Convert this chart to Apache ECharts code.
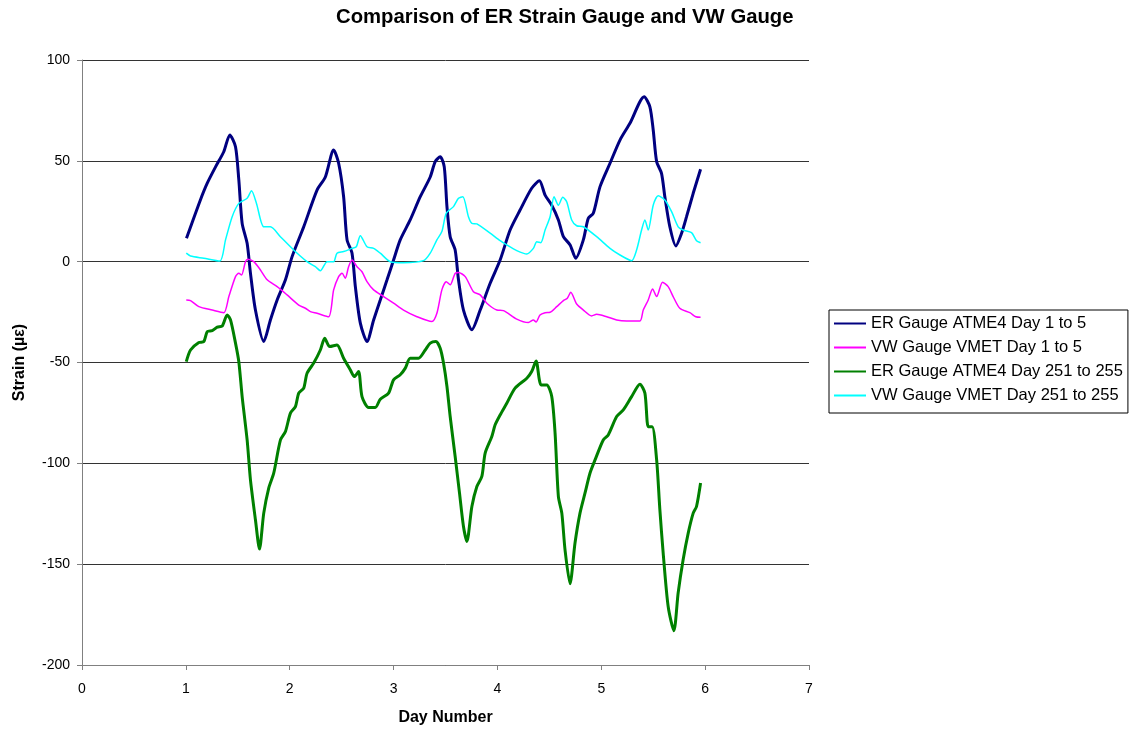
<!DOCTYPE html>
<html>
<head>
<meta charset="utf-8">
<title>Comparison of ER Strain Gauge and VW Gauge</title>
<script src="https://cdn.jsdelivr.net/npm/echarts@6/dist/echarts.min.js"></script>
<style>
  html, body { margin: 0; padding: 0; background: #fff; }
  #main { width: 1138px; height: 734px; }
</style>
</head>
<body>
<div id="main"></div>
<script>
// [day, strain]
const erDay1to5 = [
  [1.006, 11.6], [1.14, 30.6], [1.205, 38.8], [1.286, 47], [1.365, 54.5], [1.423, 62.8], [1.478, 57],
  [1.51, 40.5], [1.542, 19], [1.59, 9.1], [1.622, -5.7], [1.67, -24], [1.75, -39.6], [1.814, -28.9],
  [1.879, -19], [1.959, -9], [2.023, 2.5], [2.135, 17.3], [2.263, 35.5], [2.343, 42], [2.423, 55.4],
  [2.471, 48.8], [2.519, 32.2], [2.552, 10.8], [2.6, 4.2], [2.632, -12.4], [2.68, -30.5], [2.744, -39.6],
  [2.808, -28.9], [2.872, -19], [2.937, -9], [3.0, 0.8], [3.064, 10.8], [3.16, 20.7], [3.257, 32.2],
  [3.353, 42], [3.401, 49.6], [3.449, 52], [3.488, 47], [3.514, 27.3], [3.545, 12.4], [3.593, 5.8],
  [3.625, -9], [3.673, -24], [3.754, -33.8], [3.834, -24], [3.93, -10.7], [4.026, 0.8], [4.122, 15.7],
  [4.218, 25.6], [4.33, 36.4], [4.404, 40.1], [4.459, 33], [4.523, 28], [4.587, 20.7], [4.635, 12.4],
  [4.7, 8.3], [4.754, 1.7], [4.827, 10.8], [4.875, 21.5], [4.923, 24], [4.988, 37.2], [5.084, 48.8],
  [5.18, 60.3], [5.276, 68.6], [5.413, 81.8], [5.468, 76.8], [5.5, 65.3], [5.533, 49.6], [5.58, 43.8],
  [5.612, 32.2], [5.66, 17.3], [5.718, 7.8], [5.773, 14.1], [5.821, 22.3], [5.885, 33.9], [5.956, 45.8]
];

const vwDay1to5 = [
  [1.004, -19], [1.045, -19.3], [1.125, -22.3], [1.254, -24], [1.365, -25.3], [1.414, -17.3], [1.478, -7.4],
  [1.51, -5.8], [1.536, -6.6], [1.574, 0], [1.596, 1.2], [1.654, 0], [1.718, -4.1], [1.783, -9],
  [1.879, -12.4], [1.975, -16.5], [2.087, -21.5], [2.151, -23.1], [2.199, -24.8], [2.263, -25.6],
  [2.375, -27.3], [2.423, -14], [2.471, -7.4], [2.504, -5.8], [2.535, -8.2], [2.567, -2.5], [2.6, 0.8],
  [2.648, -2.5], [2.696, -5], [2.744, -9.9], [2.808, -14], [2.904, -17.3], [3.0, -20.6], [3.096, -24],
  [3.225, -27.3], [3.369, -29.7], [3.417, -25.6], [3.465, -14], [3.507, -9.9], [3.545, -11.5],
  [3.593, -5.8], [3.625, -5.4], [3.69, -7.4], [3.769, -14.9], [3.834, -16.5], [3.898, -20.6],
  [3.994, -24], [4.058, -24.3], [4.186, -28.5], [4.298, -30.2], [4.346, -28.9], [4.372, -29.9],
  [4.41, -26.4], [4.459, -25.3], [4.507, -25.1], [4.571, -22.3], [4.635, -19.3], [4.673, -18.1],
  [4.706, -15.2], [4.763, -21], [4.827, -24], [4.907, -26.9], [4.955, -26.1], [5.052, -27.3],
  [5.148, -28.9], [5.244, -29.4], [5.372, -29.4], [5.404, -24], [5.452, -19], [5.494, -13.5],
  [5.533, -17.3], [5.59, -10.2], [5.644, -12.4], [5.692, -17.3], [5.756, -23.1], [5.853, -25.3],
  [5.91, -27.3], [5.956, -27.6]
];

const erDay251to255 = [
  [1.004, -49.6], [1.045, -43.8], [1.125, -40.1], [1.173, -39.6], [1.206, -34.7], [1.254, -34.2],
  [1.302, -32.5], [1.35, -31.9], [1.398, -26.4], [1.43, -28.9], [1.478, -40.4], [1.51, -49.6],
  [1.542, -66.9], [1.59, -88.4], [1.622, -108.2], [1.67, -128], [1.709, -142.5], [1.75, -124.7],
  [1.798, -112.3], [1.846, -104.9], [1.911, -88.4], [1.959, -84.2], [2.007, -75.1], [2.055, -71.9],
  [2.087, -65.2], [2.135, -62.7], [2.167, -55.3], [2.231, -50.3], [2.295, -43.8], [2.337, -38],
  [2.385, -42.1], [2.455, -41.3], [2.519, -47.9], [2.584, -53.7], [2.622, -57], [2.663, -54.5],
  [2.696, -66.9], [2.76, -72.3], [2.824, -72.3], [2.872, -68.2], [2.952, -65.2], [3.0, -58.6],
  [3.064, -56.1], [3.113, -52.8], [3.16, -47.9], [3.24, -47.9], [3.305, -43.8], [3.353, -40.4],
  [3.408, -39.6], [3.449, -42.9], [3.481, -50.3], [3.514, -61.9], [3.545, -76.8], [3.593, -96.6],
  [3.635, -114.8], [3.673, -131.3], [3.706, -138.7], [3.754, -121.4], [3.802, -111.5], [3.85, -106.5],
  [3.882, -94.9], [3.946, -86.7], [3.978, -80.9], [4.026, -76], [4.09, -70.2], [4.17, -62.7],
  [4.283, -57.8], [4.33, -54.5], [4.372, -49.2], [4.42, -61.1], [4.475, -61.1], [4.523, -66.9],
  [4.555, -85], [4.587, -116.5], [4.62, -124.7], [4.651, -142.9], [4.699, -159.7], [4.747, -139.5],
  [4.795, -124.7], [4.843, -114.8], [4.891, -104.9], [4.94, -98.3], [5.019, -88.4], [5.067, -85.9],
  [5.148, -76.8], [5.212, -73.5], [5.292, -66.9], [5.372, -60.8], [5.42, -65.2], [5.452, -81.8],
  [5.49, -81.8], [5.533, -98.3], [5.564, -123], [5.596, -144.5], [5.644, -171], [5.699, -183],
  [5.74, -164.3], [5.788, -147.8], [5.837, -134.6], [5.885, -124.7], [5.917, -121.4], [5.956, -109.8]
];

const vwDay251to255 = [
  [1.004, 4.2], [1.045, 2.8], [1.173, 1.7], [1.327, 0.3], [1.382, 10.8], [1.446, 22.3], [1.51, 28.9],
  [1.59, 31.4], [1.632, 35.2], [1.68, 28.9], [1.75, 17.3], [1.814, 17.3], [1.91, 12.4], [2.038, 5.8],
  [2.167, 0], [2.247, -2.5], [2.295, -4.5], [2.36, 0], [2.423, 0], [2.455, 4.2], [2.519, 5], [2.6, 6.6],
  [2.641, 7.4], [2.68, 12.9], [2.744, 7.4], [2.808, 6.6], [2.872, 4.2], [2.968, 0], [3.096, -0.5],
  [3.288, 0.5], [3.353, 4.2], [3.417, 10.8], [3.465, 14.9], [3.507, 24], [3.577, 27.3], [3.625, 31.4],
  [3.667, 32.2], [3.721, 22.3], [3.754, 19], [3.802, 18.7], [3.93, 14.1], [4.026, 10.4], [4.09, 8.3],
  [4.186, 5.5], [4.283, 3.8], [4.346, 6.6], [4.379, 9.9], [4.417, 9.4], [4.459, 15.7], [4.507, 22.3],
  [4.545, 32.2], [4.587, 28], [4.629, 31.9], [4.667, 29.7], [4.715, 20.7], [4.763, 17.8], [4.827, 17.3],
  [4.955, 12.4], [5.084, 6.6], [5.18, 3.3], [5.292, 0.5], [5.34, 5.8], [5.388, 15.7], [5.42, 20.7],
  [5.452, 15.7], [5.5, 28], [5.548, 32.7], [5.612, 30.6], [5.677, 24.8], [5.74, 17.3], [5.788, 15.7],
  [5.869, 14.4], [5.917, 10.4], [5.956, 9.4]
];

const seriesNames = [
  'ER Gauge ATME4 Day 1 to 5',
  'VW Gauge VMET Day 1 to 5',
  'ER Gauge ATME4 Day 251 to 255',
  'VW Gauge VMET Day 251 to 255'
];
const seriesColors = ['#000080', '#ff00ff', '#008000', '#00ffff'];
const seriesWidths = [3, 1.5, 3, 1.5];
const seriesData = [erDay1to5, vwDay1to5, erDay251to255, vwDay251to255];

const font = '"Liberation Sans", Arial, sans-serif';
const myChart = echarts.init(document.getElementById('main'));

const option = {
  backgroundColor: '#fff',
  animation: false,
  title: {
    text: 'Comparison of ER Strain Gauge and VW Gauge',
    left: 331,
    top: 2,
    textStyle: { fontFamily: font, fontSize: 20.3, fontWeight: 'bold', color: '#000' }
  },
  grid: { left: 82, right: 329, top: 60, bottom: 69 },
  legend: {
    orient: 'vertical',
    left: 829,
    top: 310,
    padding: [5, 5, 9, 4],
    itemWidth: 32,
    itemHeight: 14,
    itemGap: 7,
    borderColor: '#000',
    borderWidth: 1,
    itemStyle: { opacity: 0 },
    textStyle: { fontFamily: font, fontSize: 16.5, color: '#000' },
    data: seriesNames
  },
  xAxis: {
    type: 'value',
    min: 0,
    max: 7,
    interval: 1,
    name: 'Day Number',
    nameLocation: 'middle',
    nameGap: 45,
    nameTextStyle: { fontFamily: font, fontSize: 16, fontWeight: 'bold', color: '#000' },
    axisLine: { show: true, onZero: false, lineStyle: { color: '#808080', width: 1 } },
    axisTick: { show: true, inside: false, length: 5, lineStyle: { color: '#808080' } },
    axisLabel: { margin: 17, fontFamily: font, fontSize: 14, color: '#000' },
    splitLine: { show: false }
  },
  yAxis: {
    type: 'value',
    min: -200,
    max: 100,
    interval: 50,
    name: 'Strain (µε)',
    nameLocation: 'middle',
    nameGap: 54,
    nameRotate: 90,
    nameTextStyle: { fontFamily: font, fontSize: 16, fontWeight: 'bold', color: '#000' },
    axisLine: { show: true, onZero: false, lineStyle: { color: '#808080', width: 1 } },
    axisTick: { show: true, inside: false, length: 5, lineStyle: { color: '#808080' } },
    axisLabel: { margin: 12, fontFamily: font, fontSize: 14, color: '#000' },
    splitLine: { show: true, lineStyle: { color: '#333', width: 1 } }
  },
  series: seriesNames.map((name, i) => ({
    name: name,
    type: 'line',
    data: seriesData[i],
    symbol: 'none',
    smooth: 0.25,
    color: seriesColors[i],
    lineStyle: { color: seriesColors[i], width: seriesWidths[i] }
  }))
};

option && myChart.setOption(option);
</script>
</body>
</html>
